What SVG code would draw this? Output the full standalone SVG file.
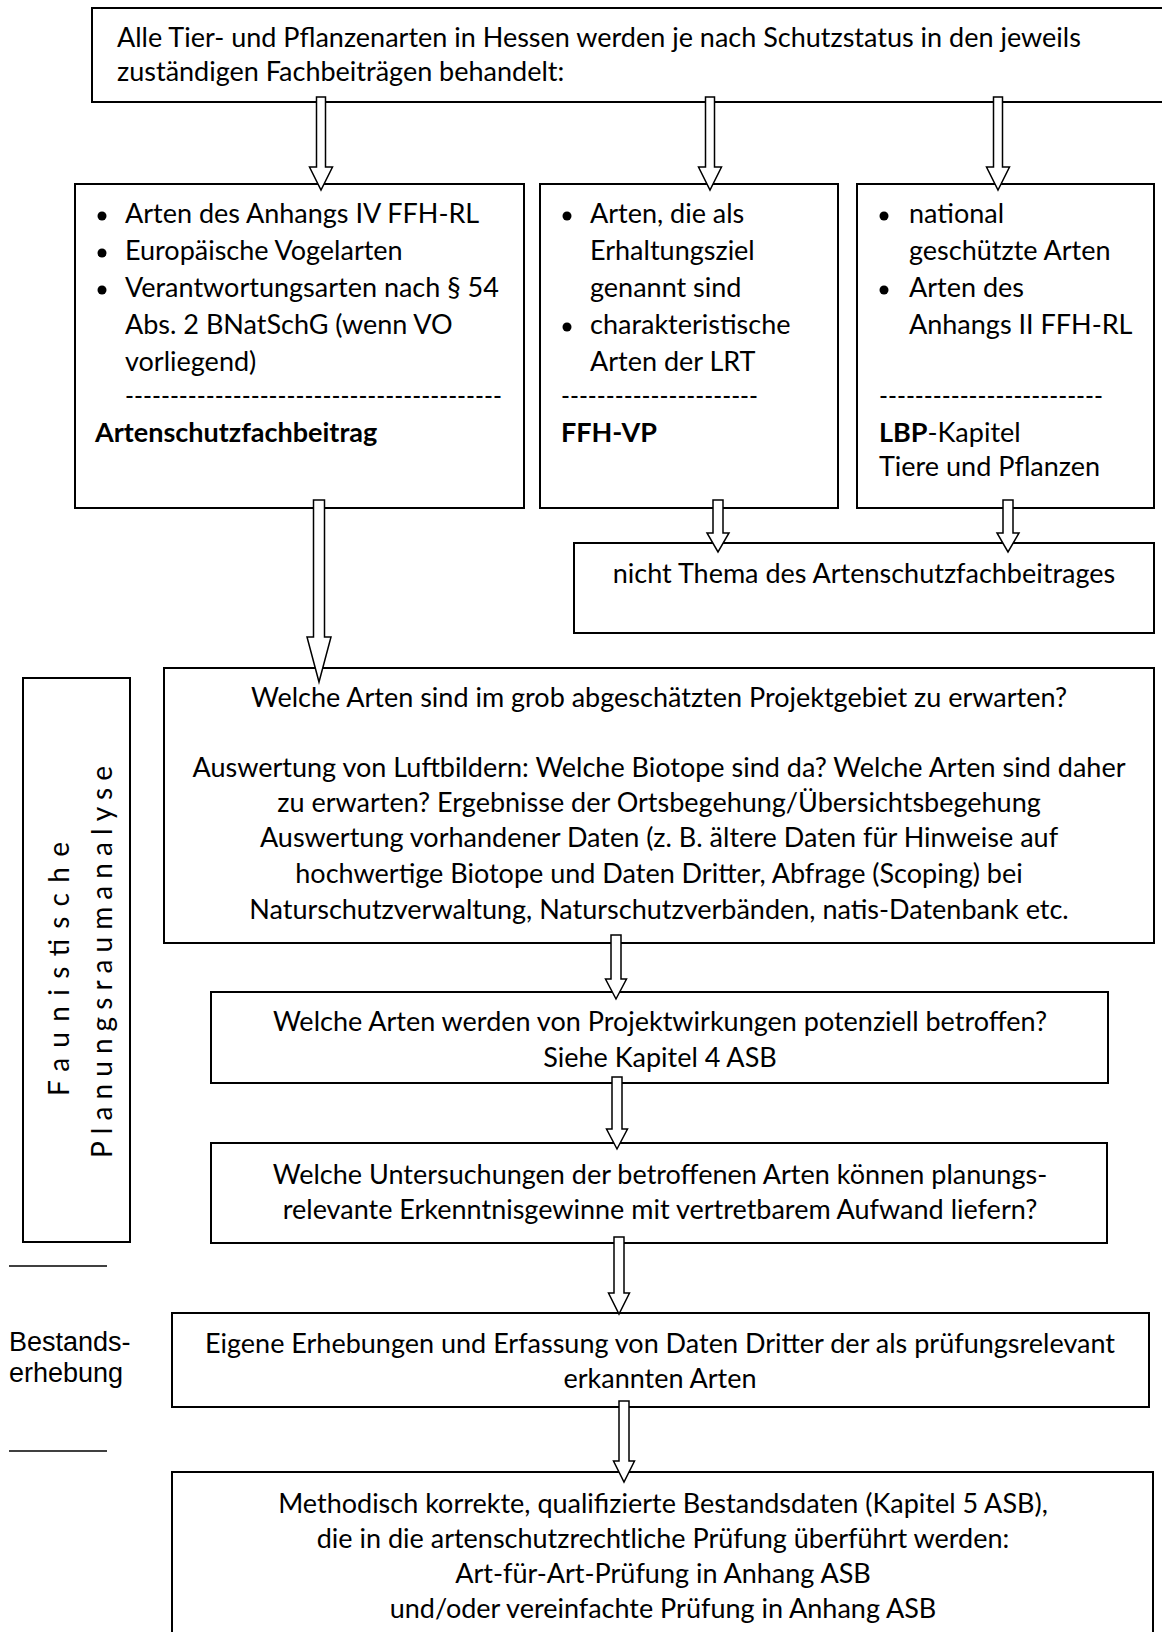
<svg xmlns="http://www.w3.org/2000/svg" width="1162" height="1632" viewBox="0 0 1162 1632">
<style>
.box{fill:#fff;stroke:#000;stroke-width:2}
.t{font-family:Lato,"Open Sans","Liberation Sans",sans-serif;font-size:27px;fill:#000}
.c{text-anchor:middle}
.b{font-weight:bold}
.v{font-size:28px}
.arial{font-family:"Liberation Sans",Arial,sans-serif;font-size:27px;fill:#000}
.arr{fill:#fff;stroke:#000;stroke-width:1.5;stroke-linejoin:miter}
.bul{fill:#000}
.sep{stroke:#000;stroke-width:1.5}
</style>
<rect width="1162" height="1632" fill="#fff"/>

<g id="node-top">
<rect class="box" x="92" y="8" width="1090" height="94"/>
<text class="t" x="117" y="47">Alle Tier- und Pflanzenarten in Hessen werden je nach Schutzstatus in den jeweils</text>
<text class="t" x="117" y="81">zuständigen Fachbeiträgen behandelt:</text>
</g>

<g id="node-asb">
<rect class="box" x="75" y="184" width="449" height="324"/>
<circle class="bul" cx="102" cy="216" r="4.5"/>
<circle class="bul" cx="102" cy="253" r="4.5"/>
<circle class="bul" cx="102" cy="290" r="4.5"/>
<text class="t" x="125" y="223">Arten des Anhangs IV FFH-RL</text>
<text class="t" x="125" y="260">Europäische Vogelarten</text>
<text class="t" x="125" y="297">Verantwortungsarten nach § 54</text>
<text class="t" x="125" y="334">Abs. 2 BNatSchG (wenn VO</text>
<text class="t" x="125" y="371">vorliegend)</text>
<text class="t" x="125" y="405" textLength="377" lengthAdjust="spacingAndGlyphs">------------------------------------------</text>
<text class="t b" x="95" y="442">Artenschutzfachbeitrag</text>
</g>

<g id="node-ffh">
<rect class="box" x="540" y="184" width="298" height="324"/>
<circle class="bul" cx="567" cy="216" r="4.5"/>
<circle class="bul" cx="567" cy="327" r="4.5"/>
<text class="t" x="590" y="223">Arten, die als</text>
<text class="t" x="590" y="260">Erhaltungsziel</text>
<text class="t" x="590" y="297">genannt sind</text>
<text class="t" x="590" y="334">charakteristische</text>
<text class="t" x="590" y="371">Arten der LRT</text>
<text class="t" x="561" y="405" textLength="197" lengthAdjust="spacingAndGlyphs">----------------------</text>
<text class="t b" x="561" y="442">FFH-VP</text>
</g>

<g id="node-lbp">
<rect class="box" x="857" y="184" width="297" height="324"/>
<circle class="bul" cx="884" cy="216" r="4.5"/>
<circle class="bul" cx="884" cy="290" r="4.5"/>
<text class="t" x="909" y="223">national</text>
<text class="t" x="909" y="260">geschützte Arten</text>
<text class="t" x="909" y="297">Arten des</text>
<text class="t" x="909" y="334">Anhangs II FFH-RL</text>
<text class="t" x="879" y="405" textLength="224" lengthAdjust="spacingAndGlyphs">-------------------------</text>
<text class="t" x="879" y="442"><tspan class="b">LBP</tspan>-Kapitel</text>
<text class="t" x="879" y="476">Tiere und Pflanzen</text>
</g>

<g id="node-nicht">
<rect class="box" x="574" y="543" width="580" height="90"/>
<text class="t c" x="864" y="583">nicht Thema des Artenschutzfachbeitrages</text>
</g>

<g id="node-faunistisch">
<rect class="box" x="23" y="678" width="107" height="564"/>
<text class="t v" transform="translate(69,1096) rotate(-90)" x="0" y="0" textLength="254" lengthAdjust="spacing">Faunistische</text>
<text class="t v" transform="translate(112,1158) rotate(-90)" x="0" y="0" textLength="392" lengthAdjust="spacing">Planungsraumanalyse</text>
</g>

<g id="node-bestand-label">
<line class="sep" x1="9" y1="1266" x2="107" y2="1266"/>
<text class="arial" x="9" y="1351">Bestands-</text>
<text class="arial" x="9" y="1382">erhebung</text>
<line class="sep" x1="9" y1="1451" x2="107" y2="1451"/>
</g>

<g id="node-welche1">
<rect class="box" x="164" y="668" width="990" height="275"/>
<text class="t c" x="659" y="707">Welche Arten sind im grob abgeschätzten Projektgebiet zu erwarten?</text>
<text class="t c" x="659" y="777">Auswertung von Luftbildern: Welche Biotope sind da? Welche Arten sind daher</text>
<text class="t c" x="659" y="812">zu erwarten? Ergebnisse der Ortsbegehung/Übersichtsbegehung</text>
<text class="t c" x="659" y="847">Auswertung vorhandener Daten (z. B. ältere Daten für Hinweise auf</text>
<text class="t c" x="659" y="883">hochwertige Biotope und Daten Dritter, Abfrage (Scoping) bei</text>
<text class="t c" x="659" y="919">Naturschutzverwaltung, Naturschutzverbänden, natis-Datenbank etc.</text>
</g>

<g id="node-welche2">
<rect class="box" x="211" y="992" width="897" height="91"/>
<text class="t c" x="660" y="1031">Welche Arten werden von Projektwirkungen potenziell betroffen?</text>
<text class="t c" x="660" y="1067">Siehe Kapitel 4 ASB</text>
</g>

<g id="node-welche3">
<rect class="box" x="211" y="1143" width="896" height="100"/>
<text class="t c" x="660" y="1184">Welche Untersuchungen der betroffenen Arten können planungs-</text>
<text class="t c" x="660" y="1219">relevante Erkenntnisgewinne mit vertretbarem Aufwand liefern?</text>
</g>

<g id="node-erhebung">
<rect class="box" x="172" y="1313" width="977" height="94"/>
<text class="t c" x="660" y="1353">Eigene Erhebungen und Erfassung von Daten Dritter der als prüfungsrelevant</text>
<text class="t c" x="660" y="1388">erkannten Arten</text>
</g>

<g id="node-bestandsdaten">
<rect class="box" x="172" y="1472" width="981" height="200"/>
<text class="t c" x="663" y="1513">Methodisch korrekte, qualifizierte Bestandsdaten (Kapitel 5 ASB),</text>
<text class="t c" x="663" y="1548">die in die artenschutzrechtliche Prüfung überführt werden:</text>
<text class="t c" x="663" y="1583">Art-für-Art-Prüfung in Anhang ASB</text>
<text class="t c" x="663" y="1618">und/oder vereinfachte Prüfung in Anhang ASB</text>
</g>

<g id="connectors">
<path class="arr" d="M316.5,97 H325.5 V167 H332.5 L321,190 L309.5,167 H316.5 Z"/>
<path class="arr" d="M705.5,97 H714.5 V167 H721.5 L710,190 L698.5,167 H705.5 Z"/>
<path class="arr" d="M993.5,97 H1002.5 V167 H1009.5 L998,190 L986.5,167 H993.5 Z"/>
<path class="arr" d="M713,500 H723 V533 H729 L718,552 L707,533 H713 Z"/>
<path class="arr" d="M1003,500 H1013 V533 H1019 L1008,552 L997,533 H1003 Z"/>
<path class="arr" d="M313.5,500 H324.5 V637 H331 L319,682 L307,637 H313.5 Z"/>
<path class="arr" d="M611,935 H621 V979 H626.5 L616,999 L605.5,979 H611 Z"/>
<path class="arr" d="M612,1077 H622 V1129 H627.5 L617,1149 L606.5,1129 H612 Z"/>
<path class="arr" d="M614,1237 H624 V1293 H629.5 L619,1314 L608.5,1293 H614 Z"/>
<path class="arr" d="M619,1401 H629 V1461 H634.5 L624,1482 L613.5,1461 H619 Z"/>
</g>
</svg>
